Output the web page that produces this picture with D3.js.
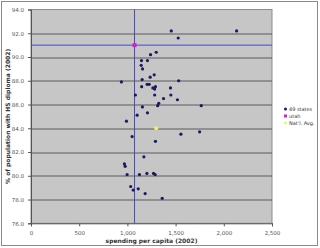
<!DOCTYPE html>
<html>
<head>
<meta charset="utf-8">
<script src="https://cdn.jsdelivr.net/npm/d3@7"></script>
<style>
  body { margin: 0; background: #fff; }
  svg { display: block; font-family: Verdana, "DejaVu Sans", sans-serif; }
</style>
</head>
<body>
<div id="scatter"></div>
<script>
// spending per capita (2002) and % with HS diploma (2002), 49 states
var spending = [1455, 1527, 2133, 1299, 1240, 1208, 1146, 1143, 1157, 1278,
  1236, 938, 1153, 1532, 1205, 1226, 1264, 1291, 1447, 1148,
  1283, 1083, 1283, 1375, 1451, 1519, 1325, 1314, 1156, 1208,
  1101, 990, 1555, 1049, 1291, 1171, 969, 977, 997, 1125,
  1202, 1271, 1288, 1034, 1060, 1112, 1184, 1361, 1766, 1749];
var diploma = [92.2, 91.6, 92.2, 90.4, 90.2, 89.7, 89.7, 89.3, 89.0, 88.5,
  88.3, 87.9, 88.1, 88.0, 87.7, 87.7, 87.4, 87.5, 87.4, 87.5,
  87.3, 86.8, 86.8, 86.5, 86.8, 86.4, 86.1, 85.9, 85.8, 85.3,
  85.1, 84.6, 83.5, 83.3, 82.9, 81.6, 81.0, 80.8, 80.1, 80.1,
  80.2, 80.2, 80.1, 79.1, 78.8, 78.9, 78.5, 78.1, 85.9, 83.7];
var utah = [1074, 91.0];
var natAvg = [1299, 84.0];

var xTicks = [0, 500, 1000, 1500, 2000, 2500];
var yTicks = [76, 78, 80, 82, 84, 86, 88, 90, 92, 94];
var legendLabels = ["49 states", "utah", "Nat'l. Avg."];

var svgWidth = 320;
var svgHeight = 248;
var margin = { top: 9.5, right: 48, bottom: 25, left: 31 };
var width = 272 - margin.left;
var height = 223.3 - margin.top;

var svg = d3.select("#scatter").append("svg")
  .attr("width", svgWidth)
  .attr("height", svgHeight);

// outer frame
svg.append("rect")
  .attr("x", 1.5).attr("y", 1.5)
  .attr("width", 316).attr("height", 244)
  .attr("fill", "#fff")
  .attr("stroke", "#8a8a8a");

var chartGroup = svg.append("g")
  .attr("transform", `translate(${margin.left}, ${margin.top})`);

var x = d3.scaleLinear().domain([0, 2500]).range([0, width]);
var y = d3.scaleLinear().domain([76, 94]).range([height, 0]);

chartGroup.append("rect")
  .attr("width", width).attr("height", height)
  .attr("fill", "#c6c6c6")
  .attr("stroke", "#8c8c8c");

// gridlines
chartGroup.selectAll(".grid")
  .data(yTicks.filter(d => d > 76 && d < 94))
  .enter().append("line")
  .attr("x1", 0).attr("x2", width)
  .attr("y1", d => Math.round(y(d)) + 0.5)
  .attr("y2", d => Math.round(y(d)) + 0.5)
  .attr("stroke", "#5a5a5a")
  .attr("stroke-width", 1);

var bottomAxis = d3.axisBottom(x).tickValues(xTicks)
  .tickSize(3).tickFormat(d3.format(",")).tickPadding(5);
var leftAxis = d3.axisLeft(y).tickValues(yTicks)
  .tickSize(3).tickFormat(d3.format(".1f")).tickPadding(4);

var xAxis = chartGroup.append("g")
  .attr("transform", `translate(0, ${height})`)
  .call(bottomAxis);
var yAxis = chartGroup.append("g").call(leftAxis);

[xAxis, yAxis].forEach(function(ax) {
  ax.select(".domain").attr("stroke", "#555");
  ax.selectAll(".tick line").attr("stroke", "#555");
  ax.selectAll("text").attr("font-size", "5.5px").attr("fill", "#555")
    .attr("font-family", "Verdana, 'DejaVu Sans', sans-serif");
});

// utah crosshair
chartGroup.append("line")
  .attr("x1", x(utah[0])).attr("x2", x(utah[0]))
  .attr("y1", 0).attr("y2", height)
  .attr("stroke", "#4848c8").attr("stroke-width", 1);
chartGroup.append("line")
  .attr("x1", 0).attr("x2", width)
  .attr("y1", y(utah[1])).attr("y2", y(utah[1]))
  .attr("stroke", "#4848c8").attr("stroke-width", 1);

var states = spending.map((s, i) => ({ s: s, d: diploma[i] }));

chartGroup.append("g").selectAll("circle")
  .data(states)
  .enter().append("circle")
  .attr("cx", d => x(d.s))
  .attr("cy", d => y(d.d))
  .attr("r", 1.6)
  .attr("fill", "#1a1a5e");

chartGroup.append("rect")
  .attr("x", x(utah[0]) - 2).attr("y", y(utah[1]) - 2)
  .attr("width", 4).attr("height", 4)
  .attr("fill", "#d020d0");

chartGroup.append("circle")
  .attr("cx", x(natAvg[0])).attr("cy", y(natAvg[1]))
  .attr("r", 2)
  .attr("fill", "#f0f070");

// axis titles
chartGroup.append("text")
  .attr("x", width / 2).attr("y", height + 20)
  .attr("text-anchor", "middle")
  .attr("font-size", "6px").attr("font-weight", "bold").attr("fill", "#333")
  .text("spending per capita (2002)");

chartGroup.append("text")
  .attr("transform", `translate(-21, ${height / 2}) rotate(-90)`)
  .attr("text-anchor", "middle")
  .attr("font-size", "6px").attr("font-weight", "bold").attr("fill", "#333")
  .text("% of population with HS diploma (2002)");

// legend
var legend = svg.append("g").attr("transform", "translate(284, 109)");
var legendColors = ["#1a1a5e", "#d020d0", "#f0f070"];
legendLabels.forEach(function(lbl, i) {
  var g = legend.append("g").attr("transform", `translate(0, ${i * 7})`);
  if (i === 0) {
    g.append("circle").attr("cx", 1.5).attr("cy", 0).attr("r", 1.5).attr("fill", legendColors[i]);
  } else if (i === 1) {
    g.append("rect").attr("x", 0).attr("y", -1.5).attr("width", 3).attr("height", 3).attr("fill", legendColors[i]);
  } else {
    g.append("circle").attr("cx", 1.5).attr("cy", 0).attr("r", 1.5).attr("fill", legendColors[i]);
  }
  g.append("text").attr("x", 5).attr("y", 2)
    .attr("font-size", "5px").attr("fill", "#333")
    .text(lbl);
});
</script>
</body>
</html>
